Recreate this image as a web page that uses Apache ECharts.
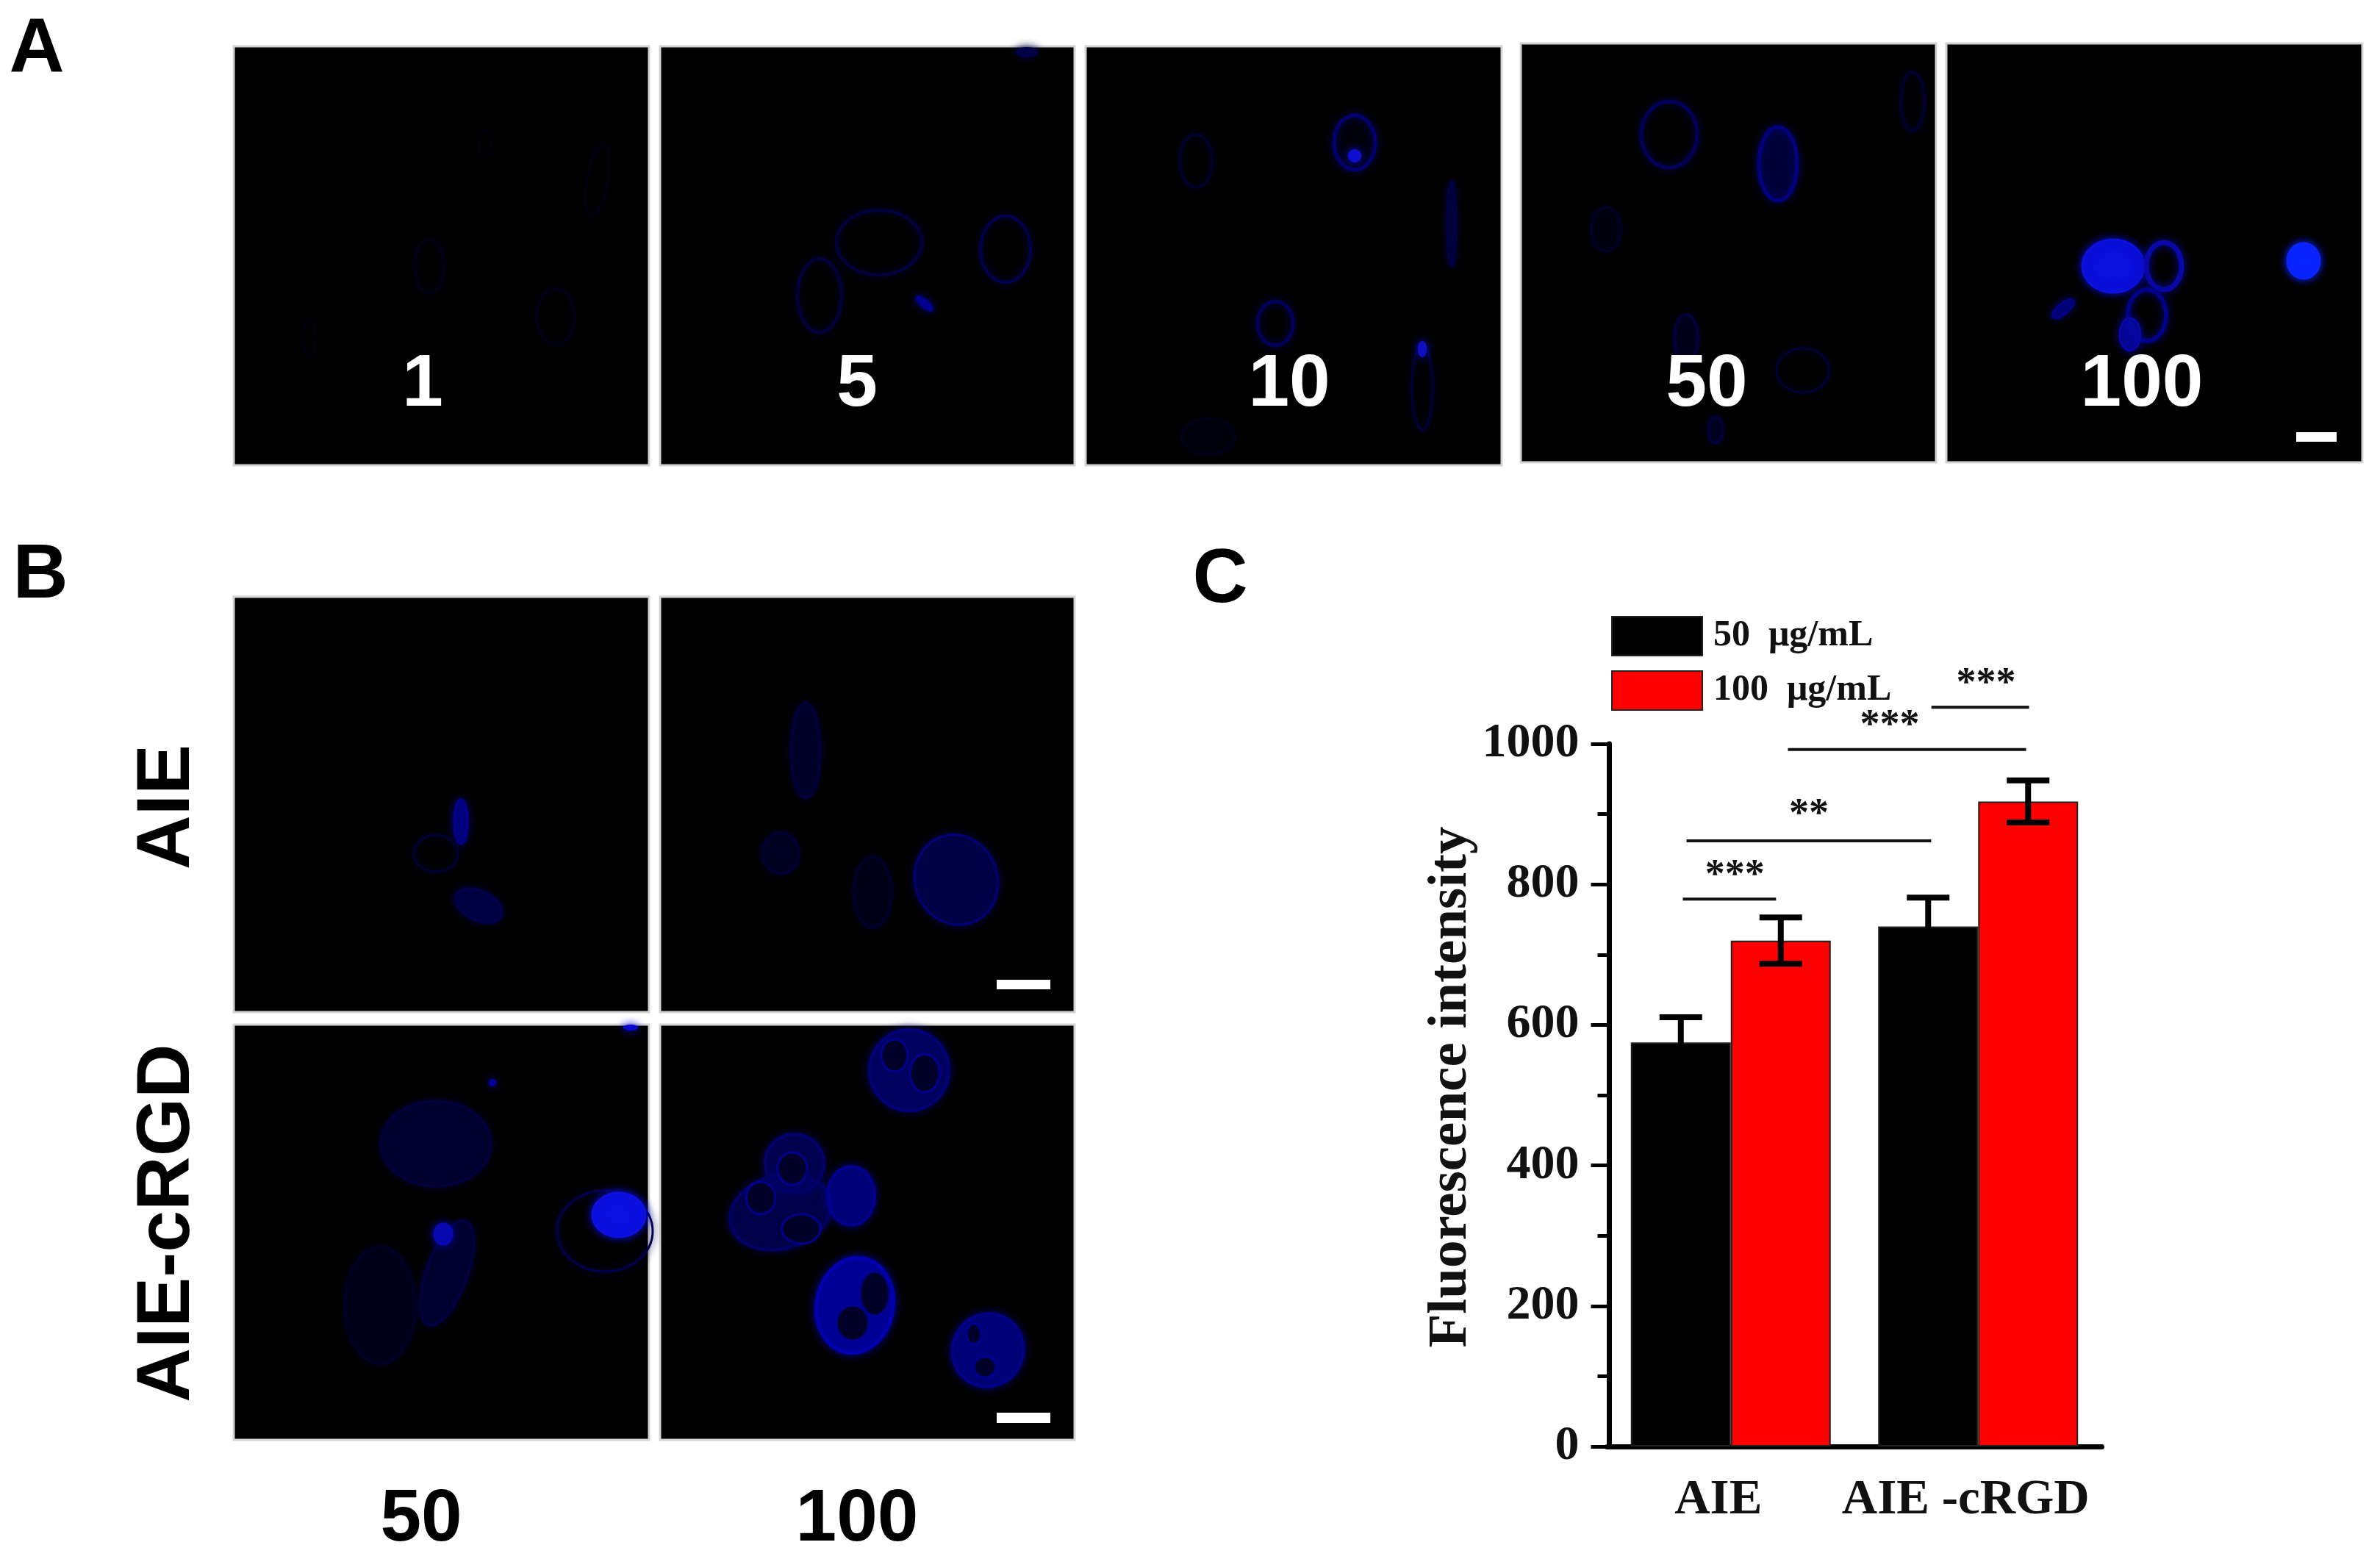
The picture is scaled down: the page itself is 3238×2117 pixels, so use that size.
<!DOCTYPE html>
<html style="height: 100%">

<head>
    <meta charset="utf-8">
    <script src="https://cdn.jsdelivr.net/npm/echarts@6/dist/echarts.min.js"></script>
</head>

<body style="height: 100%; margin: 0; background: #fff">
    <div id="container" style="height: 100%"></div>
    <script type="text/javascript">
        // panel C values
        var categories = ['AIE', 'AIE -cRGD'];
        var seriesNames = ['50  μg/mL', '100  μg/mL'];
        var values50 = [575, 740];
        var values100 = [720, 918];
        var error50 = [36, 41];
        var error100 = [33, 30];

        // significance bars: from, to (in group widths) and height (axis units)
        var sigFrom = [0.306, 0.321, 0.731, 1.311];
        var sigTo = [0.683, 1.310, 1.694, 1.706];
        var sigLevel = [779, 862, 992, 1052];
        var sigText = ['***', '**', '***', '***'];
        var sigTextX = [0.516, 0.816, 1.143, 1.532];
        var sigTextLevel = [812, 898, 1025, 1085];

        var serif = '"Liberation Serif", serif';
        var sans = '"Liberation Sans", Arial, sans-serif';

        var dom = document.getElementById("container");
        var myChart = echarts.init(dom);

        // micrograph panels are plain drawings, not data
        var graphics = [];

        function panel(x0, y0, x1, y1) {
            graphics.push({
                type: 'rect', z: 1,
                shape: { x: x0, y: y0, width: x1 - x0, height: y1 - y0 },
                style: { fill: '#000', stroke: '#d4d4d4', lineWidth: 3 }
            });
        }

        // fillAlpha 0 = faint cell outline, 1 = solid spot; rot in degrees
        function cell(cx, cy, rx, ry, color, fillAlpha, lw, rot) {
            graphics.push({
                type: 'ellipse', z: 2,
                x: cx, y: cy, rotation: (rot || 0) * Math.PI / 180,
                shape: { cx: 0, cy: 0, rx: rx, ry: ry },
                style: {
                    fill: color,
                    stroke: color, lineWidth: lw || 3,
                    fillOpacity: fillAlpha,
                    shadowBlur: 12, shadowColor: color
                }
            });
        }

        // dark nucleus inside a cell
        function hole(cx, cy, rx, ry, rot) {
            graphics.push({
                type: 'ellipse', z: 3,
                x: cx, y: cy, rotation: (rot || 0) * Math.PI / 180,
                shape: { cx: 0, cy: 0, rx: rx, ry: ry },
                style: { fill: '#000028', stroke: '#000090', lineWidth: 3 }
            });
        }

        function txt(text, x, y, size, color, rotate, family) {
            graphics.push({
                type: 'text', z: 5, x: x, y: y, rotation: rotate || 0,
                style: {
                    text: text, fill: color, align: 'center', verticalAlign: 'middle',
                    fontFamily: family || sans, fontWeight: 'bold', fontSize: size
                }
            });
        }

        function scaleBar(x0, y0, x1, y1) {
            graphics.push({
                type: 'rect', z: 4,
                shape: { x: x0, y: y0, width: x1 - x0, height: y1 - y0 },
                style: { fill: '#fff' }
            });
        }

        panel(318, 63, 883, 633);
        panel(898, 63, 1462, 633);
        panel(1477, 63, 2043, 633);
        panel(2069, 59, 2634, 629);
        panel(2648, 59, 3214, 629);
        panel(318, 812, 883, 1377);
        panel(898, 812, 1462, 1377);
        panel(318, 1394, 883, 1959);
        panel(898, 1394, 1462, 1959);

        // A 1
        cell(584, 362, 20, 36, '#00001e', 0, 3);
        cell(756, 431, 26, 38, '#00001e', 0, 3);
        cell(813, 245, 14, 50, '#000014', 0, 3, -10);
        cell(660, 196, 8, 20, '#000014', 0, 2);
        cell(421, 460, 8, 28, '#000014', 0, 2);
        // A 5
        cell(1115, 402, 30, 50, '#000040', 0, 4);
        cell(1196, 330, 58, 44, '#000040', 0, 4);
        cell(1368, 339, 34, 45, '#000050', 0, 4);
        cell(1258, 413, 14, 5, '#000090', 1, 2, -40);
        cell(1397, 71, 14, 6, '#000048', 1, 2);
        // A 10
        cell(1843, 194, 28, 37, '#000070', 0.05, 5);
        cell(1843, 212, 8, 8, '#1010d0', 1, 2);
        cell(1627, 219, 22, 36, '#00002c', 0, 4);
        cell(1975, 304, 6, 58, '#000048', 0.6, 3);
        cell(1735, 440, 24, 30, '#00005c', 0, 5);
        cell(1935, 527, 14, 58, '#000040', 0, 3);
        cell(1935, 475, 5, 10, '#1010c0', 1, 2);
        cell(1644, 594, 36, 24, '#00001c', 0.2, 3);
        // A 50
        cell(2271, 183, 38, 45, '#000058', 0, 5);
        cell(2419, 223, 26, 50, '#000080', 0.25, 5);
        cell(2602, 138, 16, 40, '#000030', 0, 4);
        cell(2185, 312, 20, 30, '#00002c', 0.2, 3);
        cell(2294, 460, 16, 32, '#000048', 0.2, 3);
        cell(2453, 504, 36, 30, '#000038', 0, 3);
        cell(2334, 585, 10, 18, '#000040', 0.3, 3);
        // A 100
        cell(2875, 362, 42, 36, '#0c10e0', 0.85, 3);
        cell(2944, 362, 24, 32, '#0808a8', 0, 7);
        cell(2921, 429, 26, 35, '#000088', 0, 6);
        cell(2898, 455, 14, 22, '#0808a8', 0.7, 3);
        cell(2807, 420, 18, 7, '#000088', 0.7, 3, 40);
        cell(3134, 355, 22, 24, '#0a24ff', 1, 3);
        // B AIE 50
        cell(627, 1118, 9, 30, '#000098', 0.6, 3);
        cell(593, 1161, 30, 25, '#000038', 0, 3);
        cell(651, 1232, 34, 20, '#000050', 0.6, 3, -25);
        // B AIE 100
        cell(1096, 1021, 20, 65, '#000040', 0.4, 3);
        cell(1062, 1161, 25, 28, '#000038', 0.35, 3);
        cell(1187, 1214, 26, 48, '#000030', 0.3, 3);
        cell(1301, 1197, 56, 62, '#000078', 0.35, 3, 20);
        // B cRGD 50
        cell(593, 1556, 75, 58, '#000040', 0.5, 3);
        cell(608, 1732, 28, 75, '#000048', 0.4, 3, -20);
        cell(517, 1776, 48, 80, '#00002a', 0.4, 3);
        cell(823, 1675, 65, 55, '#000050', 0, 3);
        cell(842, 1653, 36, 30, '#0c10e0', 0.95, 3);
        cell(603, 1679, 12, 14, '#0808b0', 1, 3);
        cell(670, 1473, 4, 4, '#0000a0', 1, 2);
        cell(858, 1398, 9, 3, '#0808d0', 1, 2);
        // B cRGD 100
        cell(1237, 1456, 54, 55, '#000078', 0.55, 4);
        hole(1217, 1436, 18, 22);
        hole(1258, 1460, 20, 26);
        cell(1081, 1583, 40, 40, '#000070', 0.45, 4);
        hole(1078, 1590, 20, 22);
        cell(1062, 1649, 70, 50, '#000068', 0.45, 4, 15);
        hole(1035, 1630, 20, 22);
        hole(1090, 1672, 26, 20);
        cell(1158, 1627, 32, 40, '#000090', 0.6, 4);
        cell(1163, 1776, 52, 65, '#0000b0', 0.6, 5, -10);
        hole(1190, 1760, 20, 30);
        hole(1160, 1800, 22, 24);
        cell(1344, 1837, 48, 50, '#000088', 0.65, 4, -25);
        hole(1340, 1860, 15, 14);
        hole(1325, 1815, 10, 14);

        scaleBar(3124, 588, 3179, 601);
        scaleBar(1356, 1333, 1429, 1346);
        scaleBar(1356, 1922, 1429, 1936);

        txt('A', 50, 68, 104, '#000');
        txt('B', 55, 784, 104, '#000');
        txt('C', 1660, 790, 104, '#000');
        txt('1', 575, 524, 100, '#fff');
        txt('5', 1166, 524, 100, '#fff');
        txt('10', 1754, 524, 100, '#fff');
        txt('50', 2322, 524, 100, '#fff');
        txt('100', 2914, 524, 100, '#fff');
        txt('AIE', 229, 1098, 102, '#000', Math.PI / 2);
        txt('AIE-cRGD', 229, 1664, 102, '#000', Math.PI / 2);
        txt('50', 573, 2068, 100, '#000');
        txt('100', 1166, 2068, 100, '#000');

        // error bars sit on the bars through the same band layout
        function errorItem(which) {
            return function (params, api) {
                var idx = api.value(0);
                var layout = api.barLayout({ barWidth: 136, barGap: '0%', count: 2 })[which];
                var hi = api.coord([idx, api.value(1)]);
                var lo = api.coord([idx, api.value(2)]);
                var x = hi[0] + layout.offsetCenter;
                var st = { stroke: '#000', lineWidth: 8, fill: null };
                return {
                    type: 'group',
                    children: [
                        { type: 'line', shape: { x1: x, y1: hi[1], x2: x, y2: lo[1] }, style: st },
                        { type: 'line', shape: { x1: x - 29, y1: hi[1], x2: x + 29, y2: hi[1] }, style: st },
                        { type: 'line', shape: { x1: x - 29, y1: lo[1], x2: x + 29, y2: lo[1] }, style: st }
                    ]
                };
            };
        }

        function errorData(vals, errs) {
            return vals.map(function (v, i) { return [i, v + errs[i], v - errs[i]]; });
        }

        var sigData = sigFrom.map(function (f, i) {
            return [f, sigTo[i], sigLevel[i], sigTextX[i], sigTextLevel[i], sigText[i]];
        });

        option = {
            backgroundColor: '#fff',
            animation: false,
            graphic: graphics,
            legend: {
                data: seriesNames,
                orient: 'vertical',
                left: 2192,
                top: 838,
                padding: 0,
                itemWidth: 123,
                itemHeight: 53,
                itemGap: 19,
                icon: 'rect',
                align: 'left',
                selectedMode: false,
                textStyle: { fontFamily: serif, fontWeight: 'bold', fontSize: 50, color: '#111', padding: [4, 0, 0, 10] }
            },
            grid: { left: 2186.5, top: 1012, width: 673, height: 956 },
            xAxis: [
                {
                    type: 'category',
                    data: categories,
                    axisLine: { lineStyle: { color: '#000', width: 7 } },
                    axisTick: { show: false },
                    axisLabel: {
                        interval: 0,
                        hideOverlap: false,
                        fontFamily: serif, fontWeight: 'bold', fontSize: 67, color: '#111',
                        margin: 40, padding: [0, 34, 0, 0]
                    }
                },
                { type: 'value', min: 0, max: 2, show: false }
            ],
            yAxis: {
                type: 'value',
                min: 0,
                max: 1000,
                interval: 200,
                offset: -3,
                name: 'Fluorescence intensity',
                nameLocation: 'middle',
                nameGap: 176,
                nameTextStyle: {
                    fontFamily: serif, fontWeight: 'bold', fontSize: 75, color: '#111',
                    padding: [0, 0, 0, 22]
                },
                axisLine: { show: true, onZero: false, lineStyle: { color: '#000', width: 7 } },
                axisTick: { length: 25, lineStyle: { color: '#000', width: 5 } },
                minorTick: { show: true, splitNumber: 2, length: 16, lineStyle: { color: '#000', width: 5 } },
                splitLine: { show: false },
                axisLabel: {
                    formatter: function (v) { return String(v); },
                    fontFamily: serif, fontWeight: 'bold', fontSize: 66, color: '#111', margin: 41,
                    padding: [6, 0, 0, 0]
                }
            },
            series: [
                {
                    name: seriesNames[0],
                    type: 'bar',
                    data: values50,
                    barWidth: 136,
                    barGap: '0%',
                    z: 3,
                    itemStyle: { color: '#000', borderColor: '#222', borderWidth: 2 }
                },
                {
                    name: seriesNames[1],
                    type: 'bar',
                    data: values100,
                    barWidth: 136,
                    z: 3,
                    itemStyle: { color: '#ff0000', borderColor: '#222', borderWidth: 2 }
                },
                {
                    type: 'custom',
                    renderItem: errorItem(0),
                    data: errorData(values50, error50),
                    encode: { x: 0, y: [1, 2] },
                    z: 4
                },
                {
                    type: 'custom',
                    renderItem: errorItem(1),
                    data: errorData(values100, error100),
                    encode: { x: 0, y: [1, 2] },
                    z: 4
                },
                {
                    type: 'custom',
                    xAxisIndex: 1,
                    clip: false,
                    data: sigData,
                    encode: { x: [0, 1], y: 2 },
                    z: 6,
                    renderItem: function (params, api) {
                        var a = api.coord([api.value(0), api.value(2)]);
                        var b = api.coord([api.value(1), api.value(2)]);
                        var t = api.coord([api.value(3), api.value(4)]);
                        return {
                            type: 'group',
                            children: [
                                { type: 'line', shape: { x1: a[0], y1: a[1], x2: b[0], y2: b[1] }, style: { stroke: '#111', lineWidth: 4 } },
                                {
                                    type: 'text', x: t[0], y: t[1],
                                    style: {
                                        text: sigData[params.dataIndex][5], fill: '#111', align: 'center', verticalAlign: 'middle',
                                        fontFamily: serif, fontWeight: 'bold', fontSize: 54
                                    }
                                }
                            ]
                        };
                    }
                }
            ]
        };

        if (option && typeof option === "object") {
            myChart.setOption(option, true);
        }
    </script>
</body>

</html>
